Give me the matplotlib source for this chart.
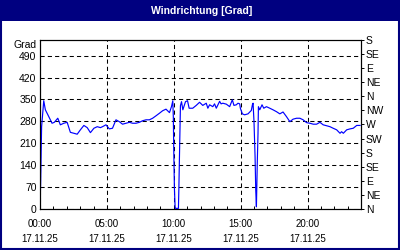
import numpy as np
import matplotlib
matplotlib.use("Agg")
import matplotlib.pyplot as plt
from matplotlib.patches import Rectangle

plt.rcParams['font.family'] = ['Liberation Sans', 'DejaVu Sans']

# Windrichtung over the day (hours since 00:00, degrees)
hours = [0.0, 0.05, 0.12, 0.28, 0.4, 0.6, 0.9, 1.07, 1.33, 1.52, 1.78, 2.03,
         2.27, 2.53, 2.78, 3.02, 3.28, 3.53, 3.77, 4.03, 4.28, 4.52, 4.67,
         4.93, 5.18, 5.42, 5.68, 5.93, 6.17, 6.43, 6.68, 6.92, 7.18, 7.43,
         7.67, 7.93, 8.18, 8.42, 8.68, 8.93, 9.17, 9.42, 9.68, 9.83, 9.93,
         9.97, 10.0, 10.05, 10.1, 10.13, 10.35, 10.38, 10.45, 10.5, 10.58,
         10.68, 10.88, 11.03, 11.15, 11.42, 11.68, 11.93, 12.17, 12.43,
         12.55, 12.68, 12.92, 13.05, 13.18, 13.43, 13.54, 13.67, 13.93,
         14.18, 14.38, 14.5, 14.68, 14.8, 14.93, 14.98, 15.13, 15.3, 15.55,
         15.8, 15.88, 15.93, 16.0, 16.08, 16.13, 16.18, 16.22, 16.25, 16.3,
         16.33, 16.43, 16.6, 16.73, 16.93, 17.18, 17.42, 17.68, 17.93, 18.17,
         18.43, 18.68, 18.92, 19.18, 19.43, 19.67, 19.93, 20.18, 20.43,
         20.68, 20.93, 21.17, 21.43, 21.68, 21.92, 22.18, 22.43, 22.55,
         22.68, 22.93, 23.18, 23.42, 23.68, 23.93]
grad = [5, 87, 263, 346, 317, 300, 274, 277, 290, 269, 274, 277,
        245, 242, 239, 253, 267, 260, 244, 258, 263, 260, 263,
        269, 256, 258, 285, 279, 271, 274, 277, 274, 274, 277,
        282, 285, 285, 290, 298, 306, 314, 319, 308, 327, 346,
        290, 189, 66, 7, 2, 2, 60, 220, 330, 343,
        317, 343, 346, 322, 322, 331, 341, 331, 338,
        322, 333, 327, 336, 322, 344, 336, 338, 335,
        327, 349, 331, 333, 338, 336, 322, 304, 301, 304,
        315, 333, 338, 279, 167, 61, 7, 93, 157, 242,
        327, 317, 333, 322, 327, 322, 317, 311, 304, 310,
        295, 279, 287, 290, 290, 285, 276, 274, 271,
        271, 277, 269, 266, 263, 258, 253, 242, 247,
        242, 253, 256, 258, 267, 267]

left_ticks = [0, 70, 140, 210, 280, 350, 420, 490]
right_ticks = [0, 45, 90, 135, 180, 225, 270, 315, 360, 405, 450, 495, 540]
right_labels = ['N', 'NE', 'E', 'SE', 'S', 'SW', 'W', 'NW',
                'N', 'NE', 'E', 'SE', 'S']
x_ticks = [0, 5, 10, 15, 20]
x_labels = ['00:00\n17.11.25', '05:00\n17.11.25', '10:00\n17.11.25',
            '15:00\n17.11.25', '20:00\n17.11.25']

navy = '#000080'
fig = plt.figure(figsize=(4, 2.5), dpi=100)
fig.patch.set_facecolor('white')

# title bar and frame
fig.patches.append(Rectangle((0, 0.918), 1, 0.082, transform=fig.transFigure,
                             facecolor=navy, edgecolor='none', zorder=0))
fig.patches.append(Rectangle((0.002, 0.003), 0.996, 0.994, transform=fig.transFigure,
                             facecolor='none', edgecolor=navy, lw=1.5, zorder=0))
fig.text(0.505, 0.958, 'Windrichtung [Grad]', color='white', fontsize=7.5,
         fontweight='bold', ha='center', va='center')

ax = fig.add_axes([0.1, 0.164, 0.8025, 0.676])
ax.plot(hours, grad, color='#0000ff', lw=0.85, zorder=3)
ax.set_xlim(0, 24)
ax.set_ylim(0, 540)

ax.set_yticks(left_ticks)
ax.tick_params(axis='y', length=0, pad=2.5, labelsize=7.5)
ax.set_xticks(x_ticks)
ax.set_xticklabels(x_labels, linespacing=1.55)
ax.set_xticks(range(25), minor=True)
ax.tick_params(axis='x', which='both', direction='in', length=2.5, width=0.7,
               pad=7.5, labelsize=7)
ax.grid(True, which='major', color='black', lw=0.75, linestyle=(0, (4, 3)))
for s in ax.spines.values():
    s.set_linewidth(0.8)

ax.text(-0.012, 525, 'Grad', transform=ax.get_yaxis_transform(),
        ha='right', va='center', fontsize=7.5)

ax2 = ax.twinx()
ax2.set_ylim(0, 540)
ax2.set_yticks(right_ticks)
ax2.set_yticklabels(right_labels)
ax2.tick_params(axis='y', direction='out', length=2.5, width=0.7, pad=1,
                labelsize=7.5)

fig.savefig('out.png', dpi=100)
